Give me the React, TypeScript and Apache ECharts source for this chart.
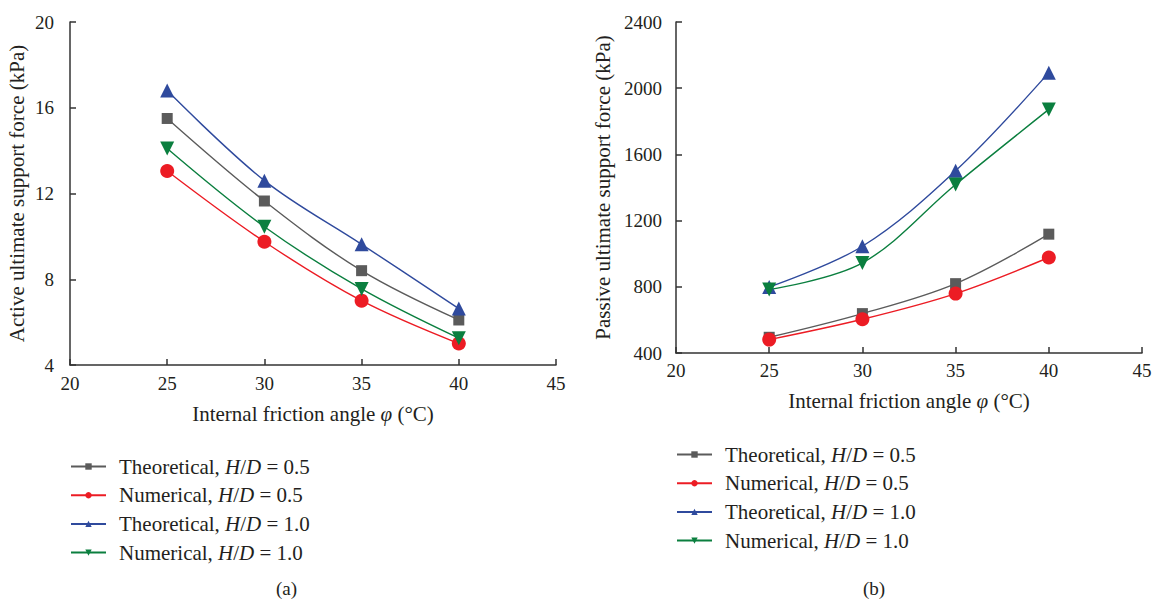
import React, { useEffect, useRef } from "react";
import * as echarts from "echarts";

const angles = [25, 30, 35, 40];
const seriesNames = [
  "Theoretical, H/D = 0.5",
  "Numerical, H/D = 0.5",
  "Theoretical, H/D = 1.0",
  "Numerical, H/D = 1.0",
];
const activeTheo05 = [15.5, 11.65, 8.4, 6.1];
const activeNum05 = [13.05, 9.75, 7.0, 5.0];
const activeTheo10 = [16.8, 12.6, 9.63, 6.63];
const activeNum10 = [14.1, 10.45, 7.55, 5.25];
const passiveTheo05 = [495, 638, 819, 1118];
const passiveNum05 = [481, 604, 759, 977];
const passiveTheo10 = [799, 1045, 1501, 2094];
const passiveNum10 = [783, 944, 1418, 1872];

const colors = ["#5b5b5b", "#ec1c24", "#2f4a9d", "#0b7f3f"];
const symbols = ["rect", "circle", "triangle", "triangle"];
const rotations = [0, 0, 0, 180];
const FONT = "Liberation Serif";
const TEXT = "#231f20";

export default function App() {
  const ref = useRef<HTMLDivElement>(null);
  useEffect(() => {
    if (!ref.current) return;
    const chart = echarts.init(ref.current, undefined, { renderer: "svg" });
    const mk = (name: string, data: number[], i: number, idx: number) => ({
      name,
      type: "line",
      xAxisIndex: idx,
      yAxisIndex: idx,
      data: angles.map((a, k) => [a, data[k]]),
      smooth: 0.35,
      symbol: symbols[i],
      symbolRotate: rotations[i],
      symbolSize: i === 0 ? 11 : 14,
      showSymbol: true,
      lineStyle: { color: colors[i], width: 1.4 },
      itemStyle: { color: colors[i] },
      z: 3,
    });
    const axisCommon = {
      axisLine: { show: true, lineStyle: { color: "#333", width: 1.5 } },
      axisTick: { show: true, inside: true, length: 6, lineStyle: { color: "#333", width: 1.5 } },
      splitLine: { show: false },
      axisLabel: { color: TEXT, fontFamily: FONT, fontSize: 19, formatter: (v: number) => String(v) },
      nameTextStyle: {
        color: TEXT,
        fontFamily: FONT,
        fontSize: 21,
        rich: { i: { fontStyle: "italic", fontFamily: FONT, fontSize: 21, color: TEXT } },
      },
      nameLocation: "middle",
    };
    const fmt = (name: string) => name.replace("H/D", "{i|H}/{i|D}");
    const legendCommon = {
      orient: "vertical",
      padding: 0,
      itemWidth: 35,
      itemHeight: 8,
      itemGap: 7.7,
      formatter: fmt,
      textStyle: {
        color: TEXT,
        fontFamily: FONT,
        fontSize: 21,
        padding: [0, 0, 0, 8],
        rich: {
          i: { fontStyle: "italic", fontFamily: FONT, fontSize: 21, color: TEXT },
        },
      },
      data: seriesNames,
      selectedMode: false,
    };
    const xName = "Internal friction angle {i|φ} (°C)";
    chart.setOption({
      animation: false,
      backgroundColor: "#ffffff",
      grid: [
        { left: 70, top: 22, width: 486, height: 343 },
        { left: 676, top: 22, width: 466, height: 331 },
      ],
      xAxis: [
        {
          ...axisCommon,
          type: "value",
          gridIndex: 0,
          min: 20,
          max: 45,
          interval: 5,
          name: xName,
          nameGap: 38,
          axisLabel: { ...axisCommon.axisLabel, margin: 9 },
        },
        {
          ...axisCommon,
          type: "value",
          gridIndex: 1,
          min: 20,
          max: 45,
          interval: 5,
          name: xName,
          nameGap: 37,
          axisLabel: { ...axisCommon.axisLabel, margin: 8 },
        },
      ],
      yAxis: [
        {
          ...axisCommon,
          type: "value",
          gridIndex: 0,
          min: 4,
          max: 20,
          interval: 4,
          name: "Active ultimate support force (kPa)",
          nameGap: 43,
          axisLabel: { ...axisCommon.axisLabel, margin: 16 },
        },
        {
          ...axisCommon,
          type: "value",
          gridIndex: 1,
          min: 400,
          max: 2400,
          interval: 400,
          name: "Passive ultimate support force (kPa)",
          nameGap: 63,
          axisLabel: { ...axisCommon.axisLabel, margin: 14 },
        },
      ],
      legend: [
        { ...legendCommon, left: 70, top: 456 },
        { ...legendCommon, left: 676, top: 444 },
      ],
      graphic: [
        { type: "text", left: 276, top: 579, style: { text: "(a)", font: `19px ${FONT}`, fill: TEXT } },
        { type: "text", left: 863, top: 579, style: { text: "(b)", font: `19px ${FONT}`, fill: TEXT } },
      ],
      series: [
        mk(seriesNames[0], activeTheo05, 0, 0),
        mk(seriesNames[1], activeNum05, 1, 0),
        mk(seriesNames[2], activeTheo10, 2, 0),
        mk(seriesNames[3], activeNum10, 3, 0),
        mk(seriesNames[0], passiveTheo05, 0, 1),
        mk(seriesNames[1], passiveNum05, 1, 1),
        mk(seriesNames[2], passiveTheo10, 2, 1),
        mk(seriesNames[3], passiveNum10, 3, 1),
      ],
    });
    return () => chart.dispose();
  }, []);
  return <div ref={ref} style={{ width: 1160, height: 603, position: "absolute", left: 0, top: 0 }} />;
}
